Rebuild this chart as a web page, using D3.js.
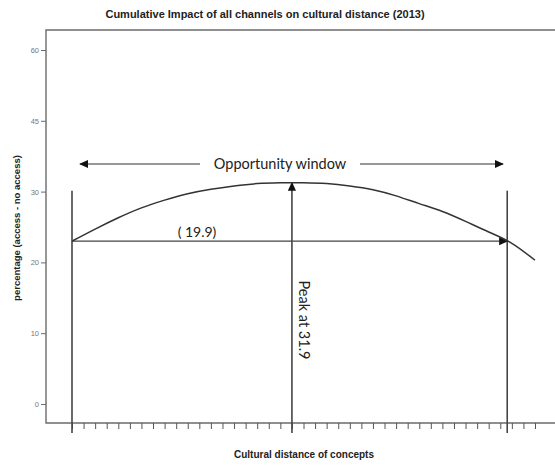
<!DOCTYPE html>
<html>
<head>
<meta charset="utf-8">
<script src="https://cdn.jsdelivr.net/npm/d3@7"></script>
<style>
  html, body { margin: 0; padding: 0; background: #fff; }
  svg { display: block; }
</style>
</head>
<body>
<svg id="chart" width="555" height="466"></svg>
<script>
// Axis tick labels (the y axis is drawn with evenly spaced, non-uniform labels)
const yTickValues = [0, 10, 20, 30, 45, 60];
const xTickValues = d3.range(0, 41);

// Cumulative impact curve: cultural distance (tick units) vs percentage
const distance = [0, 2, 4, 6, 8, 10, 12, 14, 16, 18, 19, 20, 22, 24, 26, 28, 30, 32, 34, 36, 38, 40];
const impact   = [23.0, 24.7, 26.3, 27.7, 28.8, 29.7, 30.5, 31.2, 31.7, 31.88, 31.9, 31.88, 31.7, 31.2, 30.4, 29.4, 28.3, 27.2, 25.8, 24.3, 22.7, 20.3];

// Annotation values
const windowStart = 0;
const windowEnd = 37.6;
const windowLevel = 23.0;
const windowLabel = "( 19.9)";
const peakAt = 19;
const peakValue = 31.9;
const boundaryTop = 30.2;

const svg = d3.select("#chart");
const W = 555, H = 466;
const frame = { left: 46, top: 30, bottom: 423 };

const x = d3.scaleLinear().domain([0, 40]).range([72, 535]);
const yTop = 50, yBottom = 404;
const y = d3.scaleLinear()
  .domain(yTickValues)
  .range(yTickValues.map((d, i) => yBottom - i * (yBottom - yTop) / (yTickValues.length - 1)));

const axisColor = "#6b6b6b";
const inkColor = "#333";

// arrowhead marker
const defs = svg.append("defs");
defs.append("marker")
  .attr("id", "arrow")
  .attr("viewBox", "0 0 10 10")
  .attr("refX", 9).attr("refY", 5)
  .attr("markerWidth", 9).attr("markerHeight", 9)
  .attr("markerUnits", "userSpaceOnUse")
  .attr("orient", "auto-start-reverse")
  .append("path")
  .attr("d", "M0,0.5 L10,5 L0,9.5 Z")
  .attr("fill", "#111");

// plot frame (runs off the right edge)
svg.append("path")
  .attr("d", `M${W + 5},${frame.top} H${frame.left} V${frame.bottom} H${W + 5}`)
  .attr("fill", "none")
  .attr("stroke", axisColor)
  .attr("stroke-width", 1.4);

// y axis
const yAxis = svg.append("g")
  .attr("transform", `translate(${frame.left},0)`)
  .call(d3.axisLeft(y).tickValues(yTickValues).tickSize(5).tickPadding(2));
yAxis.select(".domain").remove();
yAxis.selectAll(".tick line").attr("stroke", axisColor);
yAxis.selectAll(".tick text")
  .attr("fill", "#777")
  .style("font-family", "Arial, 'Liberation Sans', sans-serif")
  .style("font-size", "7.5px");

// x axis (unlabelled ticks)
const xAxis = svg.append("g")
  .attr("transform", `translate(0,${frame.bottom})`)
  .call(d3.axisBottom(x).tickValues(xTickValues).tickSize(6).tickFormat(""));
xAxis.select(".domain").remove();
xAxis.selectAll(".tick line").attr("stroke", "#555").attr("stroke-width", 1);

// title and axis titles
const boldFont = "Arial, 'Liberation Sans', sans-serif";
svg.append("text")
  .attr("x", 265).attr("y", 18)
  .attr("text-anchor", "middle")
  .style("font-family", boldFont).style("font-weight", "bold").style("font-size", "11px")
  .attr("fill", "#222")
  .text("Cumulative Impact of all channels on cultural distance (2013)");

svg.append("text")
  .attr("x", 304).attr("y", 458)
  .attr("text-anchor", "middle")
  .style("font-family", boldFont).style("font-weight", "bold").style("font-size", "10px")
  .attr("fill", "#222")
  .text("Cultural distance of concepts");

svg.append("text")
  .attr("transform", "translate(20,228) rotate(-90)")
  .attr("text-anchor", "middle")
  .style("font-family", boldFont).style("font-weight", "bold").style("font-size", "9.5px")
  .attr("fill", "#222")
  .text("percentage (access - no access)");

// window boundary lines
const belowAxis = frame.bottom + 10;
[windowStart, windowEnd].forEach(d => {
  svg.append("line")
    .attr("x1", x(d)).attr("x2", x(d))
    .attr("y1", belowAxis).attr("y2", y(boundaryTop))
    .attr("stroke", "#444").attr("stroke-width", 1.6);
});

// horizontal window arrow at the crossing level
svg.append("line")
  .attr("x1", x(windowStart)).attr("x2", x(windowEnd))
  .attr("y1", y(windowLevel)).attr("y2", y(windowLevel))
  .attr("stroke", "#444").attr("stroke-width", 1.3)
  .attr("marker-end", "url(#arrow)");

const annFont = "Lato, 'Open Sans', sans-serif";
svg.append("text")
  .attr("x", 197).attr("y", y(windowLevel) - 4)
  .attr("text-anchor", "middle")
  .style("font-family", annFont).style("font-size", "14px")
  .attr("fill", "#222")
  .text(windowLabel);

// peak arrow
svg.append("line")
  .attr("x1", x(peakAt)).attr("x2", x(peakAt))
  .attr("y1", belowAxis).attr("y2", y(peakValue))
  .attr("stroke", "#444").attr("stroke-width", 1.6)
  .attr("marker-end", "url(#arrow)");

svg.append("text")
  .attr("transform", `translate(${x(peakAt) + 7},320) rotate(90)`)
  .attr("text-anchor", "middle")
  .style("font-family", annFont).style("font-size", "14.5px")
  .attr("fill", "#222")
  .text(`Peak at ${peakValue}`);

// curve
const line = d3.line()
  .x((d, i) => x(distance[i]))
  .y(d => y(d))
  .curve(d3.curveNatural);
svg.append("path")
  .datum(impact)
  .attr("d", line)
  .attr("fill", "none")
  .attr("stroke", inkColor)
  .attr("stroke-width", 1.5);

// opportunity window double arrow
const owY = 164;
const owLeft = 80, owRight = 503;
svg.append("line")
  .attr("x1", 200).attr("x2", owLeft)
  .attr("y1", owY).attr("y2", owY)
  .attr("stroke", "#333").attr("stroke-width", 1.2)
  .attr("marker-end", "url(#arrow)");
svg.append("line")
  .attr("x1", 360).attr("x2", owRight)
  .attr("y1", owY).attr("y2", owY)
  .attr("stroke", "#333").attr("stroke-width", 1.2)
  .attr("marker-end", "url(#arrow)");
svg.append("text")
  .attr("x", 280).attr("y", owY + 5)
  .attr("text-anchor", "middle")
  .style("font-family", annFont).style("font-size", "14.5px")
  .attr("fill", "#222")
  .text("Opportunity window");
</script>
</body>
</html>
